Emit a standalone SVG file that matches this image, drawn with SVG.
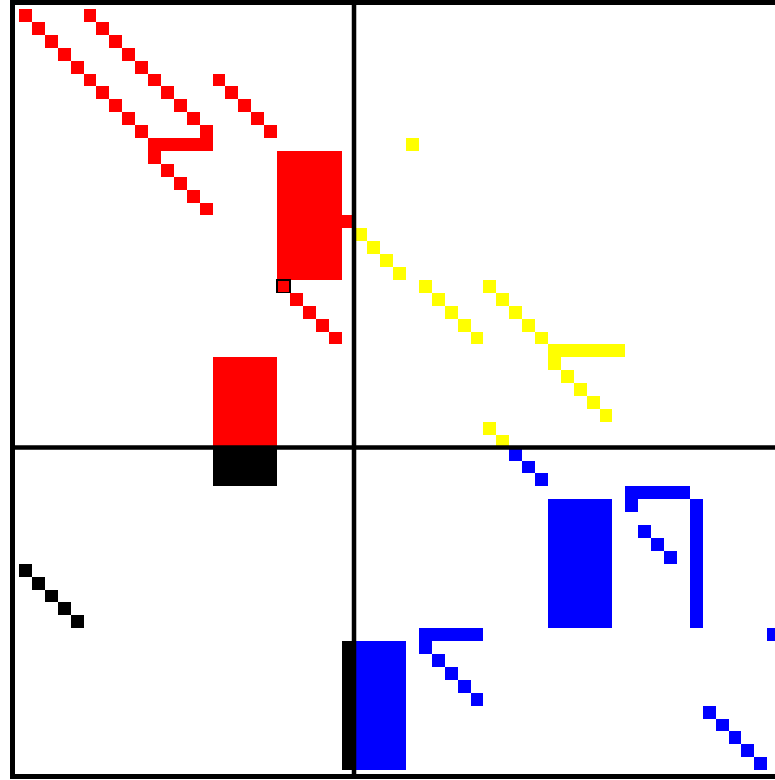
<svg xmlns="http://www.w3.org/2000/svg" width="775" height="780" viewBox="0 0 775 780">
<style>
.r{fill:#ff0000}
.y{fill:#ffff00}
.b{fill:#0000ff}
.k{fill:#000000}
rect{shape-rendering:crispEdges}
.ln{stroke:#000;stroke-width:0.35;fill:none}
</style>
<rect x="0" y="0" width="775" height="780" fill="#ffffff"/>
<g transform="translate(19 9) scale(12.9)">
<g id="red">
<rect class="r" x="0" y="0" width="1" height="1"/>
<rect class="r" x="1" y="1" width="1" height="1"/>
<rect class="r" x="2" y="2" width="1" height="1"/>
<rect class="r" x="3" y="3" width="1" height="1"/>
<rect class="r" x="4" y="4" width="1" height="1"/>
<rect class="r" x="5" y="5" width="1" height="1"/>
<rect class="r" x="6" y="6" width="1" height="1"/>
<rect class="r" x="7" y="7" width="1" height="1"/>
<rect class="r" x="8" y="8" width="1" height="1"/>
<rect class="r" x="9" y="9" width="1" height="1"/>
<rect class="r" x="5" y="0" width="1" height="1"/>
<rect class="r" x="6" y="1" width="1" height="1"/>
<rect class="r" x="7" y="2" width="1" height="1"/>
<rect class="r" x="8" y="3" width="1" height="1"/>
<rect class="r" x="9" y="4" width="1" height="1"/>
<rect class="r" x="10" y="5" width="1" height="1"/>
<rect class="r" x="11" y="6" width="1" height="1"/>
<rect class="r" x="12" y="7" width="1" height="1"/>
<rect class="r" x="13" y="8" width="1" height="1"/>
<rect class="r" x="14" y="9" width="1" height="1"/>
<rect class="r" x="10" y="10" width="5" height="1"/>
<rect class="r" x="10" y="11" width="1" height="1"/>
<rect class="r" x="11" y="12" width="1" height="1"/>
<rect class="r" x="12" y="13" width="1" height="1"/>
<rect class="r" x="13" y="14" width="1" height="1"/>
<rect class="r" x="14" y="15" width="1" height="1"/>
<rect class="r" x="15" y="5" width="1" height="1"/>
<rect class="r" x="16" y="6" width="1" height="1"/>
<rect class="r" x="17" y="7" width="1" height="1"/>
<rect class="r" x="18" y="8" width="1" height="1"/>
<rect class="r" x="19" y="9" width="1" height="1"/>
<rect class="r" x="20" y="11" width="5" height="10"/>
<rect class="r" x="25" y="16" width="1" height="1"/>
<rect class="r" x="20" y="21" width="1" height="1" stroke="#000" stroke-width="0.1"/>
<rect class="r" x="21" y="22" width="1" height="1"/>
<rect class="r" x="22" y="23" width="1" height="1"/>
<rect class="r" x="23" y="24" width="1" height="1"/>
<rect class="r" x="24" y="25" width="1" height="1"/>
<rect class="r" x="15" y="27" width="5" height="7"/>
</g>
<g id="black">
<rect class="k" x="15" y="34" width="5" height="3"/>
<rect class="k" x="0" y="43" width="1" height="1"/>
<rect class="k" x="1" y="44" width="1" height="1"/>
<rect class="k" x="2" y="45" width="1" height="1"/>
<rect class="k" x="3" y="46" width="1" height="1"/>
<rect class="k" x="4" y="47" width="1" height="1"/>
<rect class="k" x="25" y="49" width="1" height="10"/>
</g>
<g id="yellow">
<rect class="y" x="30" y="10" width="1" height="1"/>
<rect class="y" x="26" y="17" width="1" height="1"/>
<rect class="y" x="27" y="18" width="1" height="1"/>
<rect class="y" x="28" y="19" width="1" height="1"/>
<rect class="y" x="29" y="20" width="1" height="1"/>
<rect class="y" x="31" y="21" width="1" height="1"/>
<rect class="y" x="32" y="22" width="1" height="1"/>
<rect class="y" x="33" y="23" width="1" height="1"/>
<rect class="y" x="34" y="24" width="1" height="1"/>
<rect class="y" x="35" y="25" width="1" height="1"/>
<rect class="y" x="36" y="21" width="1" height="1"/>
<rect class="y" x="37" y="22" width="1" height="1"/>
<rect class="y" x="38" y="23" width="1" height="1"/>
<rect class="y" x="39" y="24" width="1" height="1"/>
<rect class="y" x="40" y="25" width="1" height="1"/>
<rect class="y" x="41" y="26" width="6" height="1"/>
<rect class="y" x="41" y="27" width="1" height="1"/>
<rect class="y" x="42" y="28" width="1" height="1"/>
<rect class="y" x="43" y="29" width="1" height="1"/>
<rect class="y" x="44" y="30" width="1" height="1"/>
<rect class="y" x="45" y="31" width="1" height="1"/>
<rect class="y" x="36" y="32" width="1" height="1"/>
<rect class="y" x="37" y="33" width="1" height="1"/>
</g>
<g id="blue">
<rect class="b" x="38" y="34" width="1" height="1"/>
<rect class="b" x="39" y="35" width="1" height="1"/>
<rect class="b" x="40" y="36" width="1" height="1"/>
<rect class="b" x="41" y="38" width="5" height="10"/>
<rect class="b" x="47" y="37" width="5" height="1"/>
<rect class="b" x="47" y="38" width="1" height="1"/>
<rect class="b" x="48" y="40" width="1" height="1"/>
<rect class="b" x="49" y="41" width="1" height="1"/>
<rect class="b" x="50" y="42" width="1" height="1"/>
<rect class="b" x="52" y="38" width="1" height="10"/>
<rect class="b" x="58" y="48" width="1" height="1"/>
<rect class="b" x="31" y="48" width="5" height="1"/>
<rect class="b" x="31" y="49" width="1" height="1"/>
<rect class="b" x="32" y="50" width="1" height="1"/>
<rect class="b" x="33" y="51" width="1" height="1"/>
<rect class="b" x="34" y="52" width="1" height="1"/>
<rect class="b" x="35" y="53" width="1" height="1"/>
<rect class="b" x="26" y="49" width="4" height="10"/>
<rect class="b" x="53" y="54" width="1" height="1"/>
<rect class="b" x="54" y="55" width="1" height="1"/>
<rect class="b" x="55" y="56" width="1" height="1"/>
<rect class="b" x="56" y="57" width="1" height="1"/>
<rect class="b" x="57" y="58" width="1" height="1"/>
</g>
<g id="grid-lines">
<rect class="ln" x="-0.5" y="-0.5" width="60" height="60"/>
<line class="ln" x1="25.97" y1="-0.5" x2="25.97" y2="59.5"/>
<line class="ln" x1="-0.5" y1="33.99" x2="59.5" y2="33.99"/>
</g>
</g>
</svg>
